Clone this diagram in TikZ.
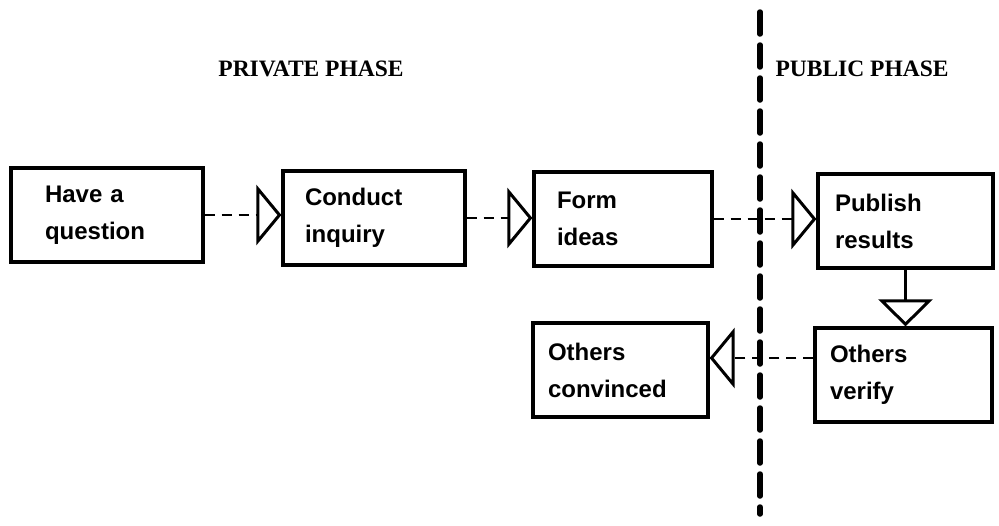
\documentclass[tikz,border=0pt]{standalone}
\usepackage{fontspec}
\setmainfont{Liberation Serif}
\newfontfamily\boxfont{Liberation Sans}
\usetikzlibrary{arrows.meta}
\begin{document}
\begin{tikzpicture}[x=1pt,y=-1pt,
  stepbox/.style={draw, line width=3.2pt, rectangle, minimum height=94pt,
    align=left, font=\boxfont\bfseries\fontsize{24}{37}\selectfont},
  phase/.style={font=\bfseries\fontsize{23.5}{28}\selectfont},
  conn/.style={line width=2.2pt, dash pattern=on 10pt off 7pt,
    -{Triangle[open, length=25pt, width=60pt, line width=3pt]}},
  solidconn/.style={line width=2.6pt,
    -{Triangle[open, length=27pt, width=54pt, line width=3pt]}},
  divider/.style={line width=5.5pt, line cap=round, dash pattern=on 22pt off 11pt}]
\useasboundingbox[fill=white] (0,0) rectangle (999,525);

% phase headings and the dividing line
\node[phase] (hpriv) at (311,69) {PRIVATE PHASE};
\node[phase] (hpub) at (862,69) {PUBLIC PHASE};
\coordinate (divtop) at (760,12);
\coordinate (divbot) at (760,514);
\draw[divider] (divtop) -- (divbot);

% steps
\node[stepbox, text width=124pt, inner xsep=34pt] (b1) at (107,215) {Have a\\question};
\node[stepbox, text width=138pt, inner xsep=22pt] (b2) at (374,218) {Conduct\\inquiry};
\node[stepbox, text width=132pt, inner xsep=23pt] (b3) at (623,219) {Form\\ideas};
\node[stepbox, text width=141pt, inner xsep=17pt] (b4) at (905.5,221) {Publish\\results};
\node[stepbox, text width=147pt, inner xsep=15pt] (b5) at (903.5,375) {Others\\verify};
\node[stepbox, text width=145pt, inner xsep=15pt] (b6) at (620.5,370) {Others\\convinced};

% connectors
\draw[conn] (b1.east) -- (b1.east -| b2.west);
\draw[conn] (b2.east) -- (b2.east -| b3.west);
\draw[conn] (b3.east) -- (b3.east -| b4.west);
\draw[solidconn] (b4.south) -- (b4.south |- b5.north);
\draw[conn] ([yshift=17pt]b5.west) -- ([yshift=17pt]b5.west -| b6.east);
\end{tikzpicture}
\end{document}
